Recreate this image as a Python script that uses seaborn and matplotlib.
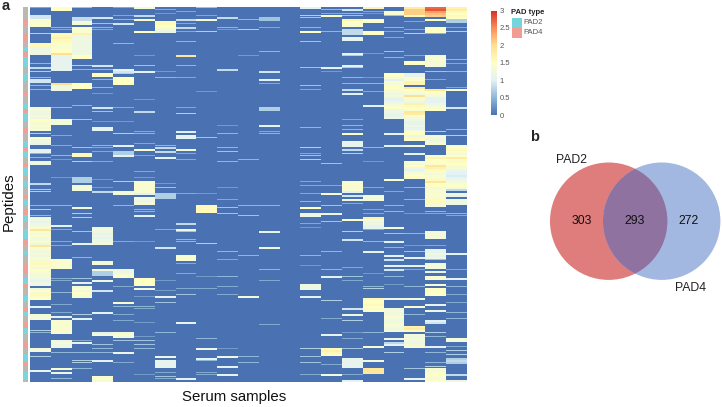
import numpy as np
import matplotlib
matplotlib.use("Agg")
import matplotlib.pyplot as plt
from matplotlib.colors import LinearSegmentedColormap, ListedColormap
from matplotlib.patches import Circle, Rectangle
import seaborn as sns

# Each entry: (first row, value or list of values for consecutive rows)
COL_00 = [(0,.4),(4,[.9,.9]),(6,[1.4,1.4]),(8,[1.4,1.4]),(13,.7),(18,[1.6,1.6]),(20,[1.2,1.2,1.2,1.2]),(28,.5),(30,.8),(32,.7),(35,.5),(36,[.9,.9]),(39,.5),(41,.5),
 (50,[1.3,1.3,1.2,1.2,1.3,1.2,1.5,1.4,1.3,1.4,1.3,1.4]),(63,.7),(65,[1.4,1.2,1.2,1.1]),(71,1),(72,1.1),(73,.5),(75,.5),(77,[1.2,1.2]),(88,.8),(91,.7),
 (92,.7),(99,.5),(101,.7),(104,.5),(105,[1.2,1.2,1.1,1.2,1.3,1.4,1.9,1.4,1.3,1.4,1.3,1.3,1.4,1.2,1.9,1.4,1.3,1.2,1.3,1.2,1.4,1.3,1.6,1.6,1.4,1.3,1.5,1.4,1.3,1.2,1.3,1.2,1.1,1.2,1.2]),
 (141,1.2),(142,[1.5,1.3,1.6,1.4,1.5]),(150,1),(154,[1.3,1.3,1.3]),(162,.7),(163,.5),(171,[1.3,1.3]),(175,.7),(182,1.1)]
COL_01 = [(0,[1.5,1.5]),(10,.5),(11,.4),(13,[1.6,1.6,1.7,1.6,1.6]),(18,[1.4,1.4,1.4]),(21,[1.5,1.5,2.0]),(24,[1.1]*8),(38,2.0),(39,[1.2,1.2,1.2]),(50,.5),(56,[1.3,1.3,1.3]),(64,.4),(69,.4),(74,.5),(76,.3),(85,.3),
 (99,.5),(109,1.0),(111,.4),(117,.4),(119,.4),(126,[1.4]*5),(136,.4),(137,.4),(143,.5),(149,.4),(153,.4),(155,1.0),(157,[1.4]*7),(167,[1.2,1.3,1.2,1.2]),(173,.5),(181,1.4),(183,1.2),(186,.5)]
COL_02 = [(0,.6),(5,[.8,.8]),(7,[1.3,1.3]),(10,[1.4,1.4,1.4]),(13,1.7),(14,[1.2]*10),(24,[1.5,1.5]),(29,.7),(31,.5),(38,[1.5,1.5,1.5]),(49,.5),(56,.6),(70,.6),(73,[1.6,1.6]),(77,.7),(85,[.7,.7,.7]),(89,[1.3,1.3,1.3]),
 (100,1.3),(103,.7),(105,.7),(112,.6),(118,1.1),(125,.5),(134,.7),(136,.6),(138,1),(140,1.3),(141,[1.4,1.3,1.5,1.4,1.4]),(154,.7),(156,1.0),(167,.4),(168,1.1),(173,.5),(177,.7),(178,.7),(181,.5)]
COL_03 = [(5,.9),(8,.6),(10,.5),(11,.4),(29,.9),(31,.5),(33,[1.5,1.5]),(36,.5),(40,.5),(43,.3),(50,.9),(52,.6),(57,.3),(60,[1.05,1.05]),(69,.5),(70,.4),(72,.4),(77,.4),(86,.3),(90,.3),
 (92,.8),(110,[1.2,1.3,1.2,1.1,1.2,1.1,1.2,1.2,1.3]),(127,[1.3,1.3]),(131,1.3),(132,[.7,.7,.7]),(137,1.2),(142,.9),(153,1.0),(163,[1.1,1.3]),(169,.6),(171,.5),(173,.5),(177,1),(185,[1.4,1.4,1.4])]
COL_04 = [(0,.4),(4,.4),(6,.5),(8,.9),(18,.5),(31,1),(32,.9),(33,.7),(35,[1.5,1.5,1.5,1.5]),(50,.4),(57,.3),(63,.7),(69,1),(72,[.7,.7]),(74,1.1),(87,.7),
 (92,[1.3,1.3]),(99,.5),(117,.4),(131,[1.2,1.2,1.3,1.5,1.5]),(140,.4),(148,1.4),(150,.5),(154,.4),(157,.4),(163,[1.3,1.4,1.3]),(167,.6),(173,1.2),(178,.4)]
COL_05 = [(0,1.3),(4,.8),(6,1.4),(12,1.5),(24,.3),(29,.6),(32,1.0),(46,.3),(52,.8),(62,.4),(63,.5),(68,.4),(71,1.4),(74,.4),(82,.4),(85,.3),(87,[1.4]*5),
 (92,1.4),(93,1),(95,[1.3,1.2,1.2,1.3]),(101,.5),(102,.5),(104,1),(117,.3),(136,[1.5]*4),(141,1.2),(145,.3),(150,.5),(151,.4),(158,.3),(165,.3),(167,.6),(169,.6),(171,.5),(184,.3)]
COL_06 = [(1,.4),(3,.3),(7,[1.6,1.6,1.5,1.4,1.2,1.1]),(32,.3),(35,.5),(69,.5),(70,.8),(72,.8),(75,1),(88,.3),(90,.6),
 (93,[.7,.7,.7]),(111,.4),(120,.9),(137,.3),(142,.3),(145,1.1),(148,.6),(163,.5),(175,1.2),(177,[1.1,1.1,1.1,1.1]),(183,.4),(185,.6),(186,.4)]
COL_07 = [(2,.4),(6,.8),(8,.4),(10,.8),(12,.4),(17,.5),(24,1.9),(29,.5),(35,.4),(50,.4),(53,.7),(62,1.0),(64,[1.05,1.05]),(71,1.3),(73,.4),(76,.4),
 (93,.4),(108,.8),(111,1.2),(112,.6),(116,.5),(117,.5),(124,[1.4,1.4,1.4]),(128,.4),(133,.4),(141,.4),(144,.6),(158,1.1),(186,1)]
COL_08 = [(0,.6),(4,.4),(6,1.3),(12,.7),(42,.3),(65,.6),
 (93,.3),(99,[1.6,1.6,1.6,1.6]),(118,.7),(135,.3),(141,.4),(166,.5),(171,1.2),(176,1.0),(177,.5),(183,.4),(184,.4)]
COL_09 = [(5,.8),(10,.5),(11,.3),(31,.8),(59,.3),(63,.5),(70,.5),(72,.6),(77,.5),(90,.3),
 (96,.4),(100,.6),(103,.6),(122,.5),(126,.4),(135,.5),(140,.4),(144,.4),(171,.3),(175,1.2),(180,1.0),(184,1.1)]
COL_10 = [(6,.5),(11,.7),(24,.3),(76,.5),(99,.5),(104,.6),(124,.5),(145,1.3),(175,.5),(178,.5)]
COL_11 = [(5,[.6,.6]),(10,.4),(22,.5),(32,.9),(36,1.0),(38,.4),(50,[.7,.7]),(59,1.1),(62,.4),(63,.5),
 (99,.5),(112,1.1),(120,1.2),(131,.5),(137,.4),(159,.4)]
COL_12 = []
COL_13 = [(0,1.0),(4,.7),(5,.6),(10,.5),(12,1.5),(17,.6),(30,.6),(39,.6),(41,.4),(60,.5),(70,.7),(73,.4),(74,.6),(76,.7),(87,.4),(89,.4),
 (93,.4),(97,.5),(100,1.5),(103,[1.2,1.2]),(108,.4),(110,.3),(124,.5),(129,.3),(139,[1.2,1.2,1.2]),(145,1.0),(171,.7),(175,.6),(178,.6),(184,.4)]
COL_14 = [(1,.5),(3,.4),(4,1.5),(12,.5),(30,1.0),(32,.3),(78,.6),(89,.4),
 (93,1.4),(99,.6),(103,1.2),(107,.6),(122,.5),(131,.5),(135,1.0),(147,.7),(156,.4),(164,1.1),(171,[1.6,1.7,1.6,1.5]),(179,.4),(184,1.3)]
COL_15 = [(1,.9),(3,.5),(4,.6),(6,[1.7,1.5,1.4,1.4]),(11,[.8,.8,.8]),(15,[1.05,1.05]),(23,1.1),(24,.7),(29,1),(30,.7),(35,.5),(38,.5),(41,.8),(43,1),(56,.4),(59,.5),(61,.5),(63,1.5),(67,[1.1,1.1,1.1]),(71,.8),(73,.7),(87,[1.4]*5),
 (92,1.0),(94,.9),(96,1.3),(98,.4),(106,1.4),(112,.7),(116,.9),(130,.4),(134,.5),(135,.6),(137,.4),(151,.9),(154,1.2),(157,.7),(163,.3),(166,.4),(171,.6),(176,[1.1]*5),(184,.4),(187,1.0)]
COL_16 = [(0,1.7),(2,.4),(3,.3),(6,[1.4,1.4]),(12,1.5),(13,1.5),(23,.3),(35,.3),(38,.5),(42,.4),(49,1.0),(70,.5),(77,.3),(90,.4),
 (94,[1.3,1.3,1.3]),(101,.4),(103,.4),(105,[1.7,1.3,1.2,1.2,1.1,1.1]),(111,.4),(117,.5),(122,1.1),(133,.3),(140,.5),(141,.7),(146,[1.6,1.5,1.5,1.6,1.5,1.4,1.5]),(163,.5),(170,1.4),(177,1.3),(181,[1.9,1.9,1.9])]
COL_17 = [(2,[1.4,1.4]),(4,.6),(10,.5),(12,.4),(15,.4),(22,.6),(25,.5),(33,[1.5,1.5,1.3,1.0,1.4,1.3,1.5,1.5,1.4,1.3,1.2,1.3,1.1,1.0,1.2,1.3,1.4,1.5,1.2,1.2,1.1,1.1,1.2]),(63,1.1),(69,1.0),(86,1.4),
 (92,.4),(99,.5),(102,.5),(110,1.3),(113,.6),(117,1.0),(120,.5),(124,1.0),(126,.9),(129,1.0),(131,.9),(135,.5),(139,.3),(146,1.2),(151,[1.3,1.3,1.2,1.3,1.4,1.3,1.2,1.3,1.4,1.3,1.2,1.3]),(166,1.2),(168,.8),(169,1),(173,.7)]
COL_18 = [(0,[1.8]),(1,[2.1,2.1,2.1]),(4,1.6),(7,.4),(11,.4),(13,.7),(24,.4),(27,[1.5,1.5]),(33,[1.1,1.1]),(35,[1.4,1.4,1.7,1.7]),(40,[1.8,1.5,1.4,1.3,2.0,1.4,1.3,1.2,1.7,1.6,1.5,1.4]),
 (52,[1.9,1.8,1.4,1.3,1.2,1.1,1.1,1.2,1.1,1.2,1.5,1.5,1.2,1.6,1.5]),(69,1.3),(73,1.1),(77,[1.4,1.3,1.5,1.2,1.1,1.3,1.4,1.5,1.4]),(90,.5),
 (96,.5),(103,.3),(113,.5),(119,.3),(122,.6),(125,1.0),(129,1.1),(131,.4),(140,.5),(146,1.3),(150,1.4),(154,.5),(160,[1.7,1.8,1.6]),(164,[1.3,1.2,1.3,1.3,1.2,1.3,1.4]),(181,.6),(186,1.1)]
COL_19 = [(0,[2.7,2.8]),(2,[2.4,2.2,2.1]),(6,1.5),(10,[1.5,1.5,1.5]),(13,.5),(24,[1.3,1.4,1.4,1.3,1.3,1.3]),(32,.6),(36,.4),(41,[1.9,1.5,1.4,1.3,1.1,1.05,1.05,1.2,1.3,1.4,1.5]),(62,.7),(64,[1.3,1.3,1.2,1.3,1.4]),
 (74,[1.4,1.7,1.5,1.5,1.4,1.9,1.7,1.6,1.4,1.3,1.4,1.4,1.6]),(87,[1.9,1.5,1.5,1.3,1.4]),
 (92,[1.4,1.4,1.4,1.4,1.6,1.6,1.3,1.3]),(102,.5),(103,.4),(112,[1.3,1.3,1.3,1.3]),(119,.4),(121,[1.1,1.1,1.2,1.1,1.2]),(126,.6),(128,[1.3,1.3,1.3]),(132,1.1),(135,[1.4,1.4]),(139,1.4),(141,[1.5,1.4,1.5,1.5]),(149,1.1),(152,1.2),(157,1),(158,.9),(163,.7),(165,.5),(170,1.0),(173,.5),(178,.5),(180,.7),(181,[1.4,1.3,1.4,1.5,1.4,1.3]),(187,1.5)]
COL_20 = [(0,[1.7,1.8,1.6,1.5,1.6]),(5,1.5),(6,[.7,.7]),(10,.4),(12,.7),(26,.5),(28,.4),(32,.5),(40,.4),(41,1.4),(50,.9),(61,.5),(64,.7),
 (69,[1.4,1.5,1.6,1.4,1.3,1.5,1.8,1.4,1.6,1.5,1.4,1.3,1.2,1.0,1.0,.95,1.1,1.2,1.3,1.4,1.5,1.3,.8]),
 (93,1.2),(94,1.1),(96,[1.2,1.2,1.2]),(103,.5),(104,.4),(123,1.0),(131,.4),(136,1.0),(140,.5),(144,.4),(148,.4),(153,.5),(156,.5),(166,[1.3,1.3]),(170,.4),(172,.7),(174,.7),(176,[.7,.8,.7]),(184,.8),(187,1.2)]
COLUMNS = [COL_00, COL_01, COL_02, COL_03, COL_04, COL_05, COL_06, COL_07, COL_08, COL_09, COL_10,
           COL_11, COL_12, COL_13, COL_14, COL_15, COL_16, COL_17, COL_18, COL_19, COL_20]
N_ROWS = 188
SUB = 2  # each read row holds two finer peptide rows; faint single lines fill only one

# Peptide annotation strip read as runs: T = PAD2, S = PAD4, G = fine mix of the two
STRIP_RUNS = [("G",6),("S",3),("G",4),("S",4),("G",3),("T",2),("S",3),("T",5),("G",3),("T",4),("G",5),("S",2),("G",4),("T",3),("S",2),("T",4),("G",3),("S",3),("G",4),("T",3),("S",2),("T",3),("G",3),("S",2),("T",4),("G",3),("T",3),
              ("G",4),("S",2),("T",3),("G",2),("S",3),("T",3),("G",4),("T",5),("S",3),("G",3),("T",2),("G",4),("S",5),("G",3),("T",3),("S",2),("G",4),("T",3),("G",3),("S",2),("T",2),("G",3),("S",3),("T",3),("G",4),("S",3),("G",3),("T",4),("S",2),("G",3),("T",4),("G",3),("S",3),("T",3),("G",2),("T",4),("S",3),("T",5),("S",2)]
STRIP_CODE = {"T": 0, "G": 1, "S": 2}
STRIP_COLORS = ["#7AD6DA", "#BAB8B0", "#EFA096"]

COLOR_STOPS = ["#4A72B2", "#8FB8D8", "#E2F2F6", "#FFFFC4", "#FEE090", "#F98E5A", "#D73027"]
CBAR_TICKS = [0, 0.5, 1, 1.5, 2, 2.5, 3]
CBAR_LABELS = ["0", "0.5", "1", "1.5", "2", "2.5", "3"]
LEGEND_TITLE = "PAD type"
LEGEND_LABELS = ["PAD2", "PAD4"]
LEGEND_COLORS = ["#74D6DA", "#F29C92"]

VENN_NAMES = ["PAD2", "PAD4"]
VENN_COUNTS = [303, 293, 272]
VENN_COLORS = ["#DF7C7C", "#A3B8E0", "#8F72A0"]

matrix = np.zeros((N_ROWS * SUB, len(COLUMNS)))
for j, col in enumerate(COLUMNS):
    for start, vals in col:
        if np.isscalar(vals) and vals < 0.8:
            matrix[start * SUB, j] = vals
        else:
            vals = np.atleast_1d(vals)
            matrix[start * SUB:(start + len(vals)) * SUB, j] = np.repeat(vals, SUB)

strip = []
for code, n in STRIP_RUNS:
    strip += [STRIP_CODE[code]] * n
strip = (strip + [1] * N_ROWS)[:N_ROWS]
strip = np.array(strip).reshape(-1, 1)

sns.set_theme(style="white")
plt.rcParams["font.family"] = ["Liberation Sans", "DejaVu Sans"]

W, H = 722, 407
fig = plt.figure(figsize=(W / 100, H / 100), dpi=100, facecolor="white")

def px_axes(x0, y0, x1, y1):
    return fig.add_axes([x0 / W, 1 - y1 / H, (x1 - x0) / W, (y1 - y0) / H])

cmap = LinearSegmentedColormap.from_list("rdylbu", COLOR_STOPS)
ax = px_axes(30, 7, 466.7, 382.3)
cax = px_axes(490.7, 10.5, 497, 115)
sns.heatmap(matrix, ax=ax, cmap=cmap, vmin=0, vmax=3, xticklabels=False, yticklabels=False,
            cbar_ax=cax, cbar_kws={"ticks": CBAR_TICKS}, rasterized=True)
cax.set_yticklabels(CBAR_LABELS, fontsize=5.5, color="#555555")
cax.tick_params(length=0, pad=2)
for s in cax.spines.values():
    s.set_visible(False)

sax = px_axes(22.5, 7, 28, 382.3)
sns.heatmap(strip, ax=sax, cmap=ListedColormap(STRIP_COLORS), vmin=0, vmax=2, cbar=False,
            xticklabels=False, yticklabels=False)

fig.text(234 / W, 1 - 397 / H, "Serum samples", fontsize=10.8, ha="center", va="center", color="#111111")
fig.text(9 / W, 1 - 202 / H, "Peptides", fontsize=10.8, rotation=90, ha="center", va="center", color="#111111")
fig.text(1.5 / W, 1 - 6 / H, "a", fontsize=10.5, fontweight="bold", ha="left", va="center")
fig.text(530 / W, 1 - 137 / H, "b", fontsize=10.5, fontweight="bold", ha="left", va="center")

# legend
fig.text(511 / W, 1 - 13 / H, LEGEND_TITLE, fontsize=5.5, fontweight="bold", ha="left", va="center", color="#222222")
for i, (lab, c) in enumerate(zip(LEGEND_LABELS, LEGEND_COLORS)):
    y0 = 18 + i * 10
    fig.add_artist(Rectangle((512 / W, 1 - (y0 + 10) / H), 9.6 / W, 10 / H, transform=fig.transFigure,
                             facecolor=c, edgecolor="none"))
    fig.text(523.5 / W, 1 - (y0 + 5) / H, lab, fontsize=5.5, ha="left", va="center", color="#555555")

# venn
vax = px_axes(540, 150, 722, 300)
vax.set_xlim(540, 722)
vax.set_ylim(300, 150)
vax.set_aspect("equal")
vax.axis("off")
R = 58.7
left = Circle((608.7, 221.2), R, facecolor=VENN_COLORS[0], edgecolor="none")
right = Circle((661.7, 221.2), R, facecolor=VENN_COLORS[1], edgecolor="none")
vax.add_patch(left)
vax.add_patch(right)
both = Circle((661.7, 221.2), R, facecolor=VENN_COLORS[2], edgecolor="none")
vax.add_patch(both)
both.set_clip_path(Circle((608.7, 221.2), R, transform=vax.transData))
for x, n in zip([581.5, 635, 688.5], VENN_COUNTS):
    vax.text(x, 221, str(n), fontsize=8.8, ha="center", va="center", color="#111111")
vax.text(571.7, 160, VENN_NAMES[0], fontsize=8.8, ha="center", va="center", color="#222222")
vax.text(690, 287.7, VENN_NAMES[1], fontsize=8.8, ha="center", va="center", color="#222222")

fig.savefig("out.png", dpi=100)
